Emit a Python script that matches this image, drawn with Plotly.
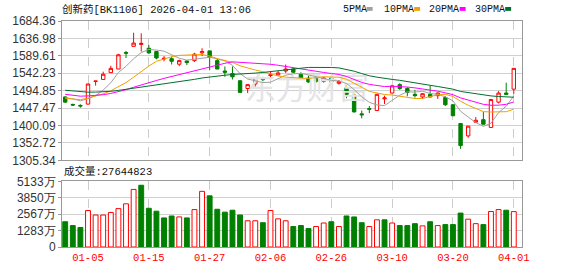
import plotly.graph_objects as go

# ---------------- data ----------------
dates = ["2025-12-29", "2025-12-30", "2025-12-31",
         "2026-01-05", "2026-01-06", "2026-01-07", "2026-01-08", "2026-01-09",
         "2026-01-12", "2026-01-13", "2026-01-14", "2026-01-15", "2026-01-16",
         "2026-01-19", "2026-01-20", "2026-01-21", "2026-01-22", "2026-01-23",
         "2026-01-26", "2026-01-27", "2026-01-28", "2026-01-29", "2026-01-30",
         "2026-02-02", "2026-02-03", "2026-02-04", "2026-02-05", "2026-02-06",
         "2026-02-09", "2026-02-10", "2026-02-11", "2026-02-12", "2026-02-13",
         "2026-02-24", "2026-02-25", "2026-02-26", "2026-02-27",
         "2026-03-02", "2026-03-03", "2026-03-04", "2026-03-05", "2026-03-06",
         "2026-03-09", "2026-03-10", "2026-03-11", "2026-03-12", "2026-03-13",
         "2026-03-16", "2026-03-17", "2026-03-18", "2026-03-19", "2026-03-20",
         "2026-03-23", "2026-03-24", "2026-03-25", "2026-03-26", "2026-03-27",
         "2026-03-30", "2026-03-31", "2026-04-01"]

open_ = [1477.8, 1457.5, 1454.9, 1458.4, 1520.2, 1525.4, 1544.0, 1553.7, 1598.7, 1615.5,
         1620.7, 1610.2, 1601.3, 1581.0, 1581.9, 1566.9, 1575.7, 1576.6, 1597.8, 1603.1,
         1576.6, 1548.4, 1541.3, 1521.9, 1500.8, 1513.1, 1527.2, 1536.0, 1537.8, 1548.4,
         1553.7, 1539.6, 1529.0, 1527.2, 1520.2, 1529.0, 1514.9, 1502.5, 1483.1, 1431.9,
         1446.0, 1440.8, 1472.5, 1488.4, 1511.3, 1500.8, 1484.9, 1477.8, 1484.9, 1481.3,
         1476.1, 1456.6, 1405.5, 1371.9, 1409.0, 1416.0, 1394.9, 1463.7, 1488.4, 1499.0]
high = [1479.6, 1459.3, 1457.5, 1513.5, 1521.0, 1546.6, 1562.5, 1595.2, 1603.1, 1652.5,
        1650.7, 1619.0, 1603.1, 1589.0, 1587.2, 1579.3, 1578.4, 1597.8, 1610.2, 1604.0,
        1581.9, 1560.7, 1560.7, 1523.7, 1513.1, 1529.0, 1532.5, 1548.4, 1548.4, 1566.0,
        1557.2, 1544.9, 1536.0, 1532.5, 1532.5, 1532.5, 1523.7, 1513.1, 1486.6, 1440.8,
        1453.1, 1486.6, 1481.3, 1511.3, 1514.9, 1504.3, 1497.2, 1488.4, 1509.6, 1490.2,
        1479.6, 1458.4, 1405.5, 1398.4, 1423.1, 1437.2, 1472.5, 1493.7, 1516.6, 1555.5]
low = [1461.9, 1453.1, 1448.7, 1457.0, 1508.7, 1525.4, 1544.0, 1553.7, 1583.7, 1615.5,
       1601.3, 1594.3, 1580.2, 1574.9, 1566.0, 1561.6, 1564.3, 1573.1, 1589.0, 1550.2,
       1553.7, 1532.5, 1525.4, 1490.2, 1488.4, 1506.0, 1520.2, 1529.0, 1536.0, 1543.1,
       1543.1, 1525.4, 1516.6, 1516.6, 1516.6, 1514.9, 1511.3, 1474.3, 1435.5, 1419.6,
       1433.7, 1440.8, 1458.4, 1488.4, 1497.2, 1479.6, 1476.1, 1472.5, 1476.1, 1472.5,
       1453.1, 1426.6, 1336.6, 1366.6, 1407.2, 1401.9, 1394.9, 1460.2, 1483.1, 1486.6]
close = [1463.7, 1455.8, 1453.1, 1513.1, 1521.0, 1539.6, 1555.5, 1592.5, 1596.9, 1624.3,
         1623.5, 1597.8, 1583.7, 1582.8, 1574.9, 1576.6, 1571.3, 1594.3, 1601.3, 1585.5,
         1553.7, 1544.9, 1532.5, 1490.2, 1511.3, 1525.4, 1525.0, 1537.8, 1543.1, 1553.7,
         1544.9, 1529.0, 1518.4, 1520.2, 1529.0, 1518.4, 1520.2, 1484.9, 1437.2, 1429.3,
         1444.3, 1484.9, 1475.2, 1507.8, 1500.8, 1490.2, 1481.3, 1486.6, 1477.8, 1488.4,
         1456.6, 1426.6, 1345.5, 1398.4, 1414.3, 1403.7, 1470.7, 1488.4, 1484.9, 1555.5]
# estimated closes of the sessions before the window (only used for the moving averages)
prior_closes = [1525, 1530, 1522, 1515, 1520, 1512, 1518, 1510, 1514, 1514,
                1508, 1502, 1500, 1495, 1498, 1490, 1494, 1488, 1492, 1490,
                1478, 1470, 1468, 1474, 1473, 1472, 1480, 1486, 1478]
# volume in 万 (10k shares)
volume = [1975, 1675, 1525, 2850, 2500, 2500, 2700, 3000, 3375, 4500,
          4825, 3025, 2800, 2275, 2425, 2350, 2275, 2925, 4350, 4000,
          2950, 2725, 2875, 2500, 2050, 2050, 1900, 2850, 2200, 2050,
          1600, 1675, 1450, 1600, 1875, 1975, 1600, 2425, 2350, 1900,
          1600, 2125, 2125, 1875, 1675, 1675, 1825, 1650, 1975, 1675,
          1750, 1750, 2650, 2175, 1825, 1750, 2775, 2925, 2875, 2764.4823]

price_ticks = [1305.34, 1352.72, 1400.09, 1447.47, 1494.85, 1542.23, 1589.61, 1636.98, 1684.36]
vol_ticks = [0, 1283.25, 2566.5, 3849.75, 5133]
vol_tick_text = ["0", "1283万", "2567万", "3850万", "5133万"]
x_tick_dates = ["2026-01-05", "2026-01-15", "2026-01-27", "2026-02-06",
                "2026-02-26", "2026-03-10", "2026-03-20", "2026-04-01"]
ma_periods = [5, 10, 20, 30]
ma_names = ["5PMA", "10PMA", "20PMA", "30PMA"]
ma_colors = ["#a0a0a0", "#f0a000", "#ff00ff", "#006f2e"]
title_text = "创新药[BK1106] 2026-04-01 13:06"
vol_title = "成交量:27644823"
watermark = "东方财富"

# ---------------- derived ----------------
x = list(range(len(dates)))
tick_idx = [dates.index(d) for d in x_tick_dates]
tick_lbl = [d[5:] for d in x_tick_dates]

all_close = prior_closes + close
npre = len(prior_closes)
mas = []
for n in ma_periods:
    vals = []
    for k in range(npre, len(all_close)):
        w = all_close[k - n + 1:k + 1]
        vals.append(sum(w) / len(w))
    mas.append(vals)

RED = "#ff0000"
GREEN = "#008000"
vol_up = [True if i == 0 and close[0] >= prior_closes[-1] else (i > 0 and close[i] >= close[i - 1]) for i in range(len(close))]
vol_fill = ["#ffffff" if u else GREEN for u in vol_up]
vol_line = [RED if u else GREEN for u in vol_up]

# ---------------- layout geometry ----------------
W, H = 578, 276
ML, MR, MT, MB = 57, 56, 21, 21
PW, PH = W - ML - MR, H - MT - MB


def px(xp):
    return (xp - ML) / PW


def py(yp):
    return (H - MB - yp) / PH


fig = go.Figure()

# watermark (drawn first, so it sits below the candles)
fig.add_trace(go.Scatter(x=[31.8], y=[1492], mode="text", text=[watermark],
                         textfont=dict(size=31, color="#e4e4e6", family="Noto Sans CJK SC"),
                         hoverinfo="skip", xaxis="x", yaxis="y", showlegend=False))

for vals, nm, col in zip(mas, ma_names, ma_colors):
    fig.add_trace(go.Scatter(x=x, y=vals, mode="lines", name=nm,
                             line=dict(color=col, width=1), xaxis="x", yaxis="y",
                             hoverinfo="skip", showlegend=False))

fig.add_trace(go.Candlestick(
    x=x, open=open_, high=high, low=low, close=close,
    increasing=dict(line=dict(color=RED, width=1), fillcolor="#ffffff"),
    decreasing=dict(line=dict(color=GREEN, width=1), fillcolor=GREEN),
    whiskerwidth=0, xaxis="x", yaxis="y", showlegend=False))

fig.add_trace(go.Bar(x=x, y=volume, width=0.64,
                     marker=dict(color=vol_fill, line=dict(color=vol_line, width=1)),
                     xaxis="x2", yaxis="y2", showlegend=False))

xr = [-0.42, 60.08]
common_x = dict(range=xr, tickmode="array", tickvals=tick_idx, ticktext=tick_lbl,
                showgrid=True, gridcolor="#cccccc", griddash="dash", gridwidth=1,
                showline=True, mirror=True, linecolor="#999999", linewidth=1,
                zeroline=False, ticks="", fixedrange=True)
common_y = dict(showgrid=True, gridcolor="#d0d0d0", gridwidth=1, showline=True,
                mirror=True, linecolor="#999999", linewidth=1, zeroline=False,
                ticks="outside", ticklen=3, tickcolor="#999999",
                tickfont=dict(family="Liberation Sans, Arial", size=12, color="#333333"))

fig.update_layout(
    width=W, height=H,
    margin=dict(l=ML, r=MR, t=MT, b=MB, pad=0),
    paper_bgcolor="#ffffff", plot_bgcolor="#ffffff",
    showlegend=False, boxgap=0.36,
    xaxis=dict(domain=[0, 1], anchor="y", showticklabels=False,
               rangeslider=dict(visible=False), **common_x),
    xaxis2=dict(domain=[0, 1], anchor="y2", showticklabels=True,
                tickfont=dict(family="Liberation Mono, monospace", size=10.5, color=RED),
                **common_x),
    yaxis=dict(domain=[py(165.3), 1], range=[price_ticks[0], price_ticks[-1]],
               tickmode="array", tickvals=price_ticks,
               ticktext=["%.2f" % v for v in price_ticks], anchor="x", **common_y),
    yaxis2=dict(domain=[0, py(187)], range=[0, vol_ticks[-1]],
                tickmode="array", tickvals=vol_ticks, ticktext=vol_tick_text,
                anchor="x2", **common_y),
)

mono = "Liberation Mono, Noto Sans CJK SC, monospace"
ann = [
    dict(x=px(55), y=py(9), xref="paper", yref="paper", text=title_text,
         showarrow=False, xanchor="left", yanchor="middle",
         font=dict(family=mono, size=10.5, color="#111111")),
    dict(x=px(57), y=py(177), xref="paper", yref="paper", text=vol_title,
         showarrow=False, xanchor="left", yanchor="middle",
         font=dict(family=mono, size=10.5, color="#111111")),
]
shapes = []
leg_text_x = [339, 380, 426, 472]
leg_sq_x = [365, 413, 459, 505]
for nm, col, tx, sx in zip(ma_names, ma_colors, leg_text_x, leg_sq_x):
    ann.append(dict(x=px(tx), y=py(9), xref="paper", yref="paper", text=nm,
                    showarrow=False, xanchor="left", yanchor="middle",
                    font=dict(family=mono, size=10, color="#111111")))
    shapes.append(dict(type="rect", xref="paper", yref="paper",
                       x0=px(sx), x1=px(sx + 6), y0=py(10.5), y1=py(6.5),
                       fillcolor=col, line=dict(width=0)))
fig.update_layout(annotations=ann, shapes=shapes)

fig.write_html("out.html")
